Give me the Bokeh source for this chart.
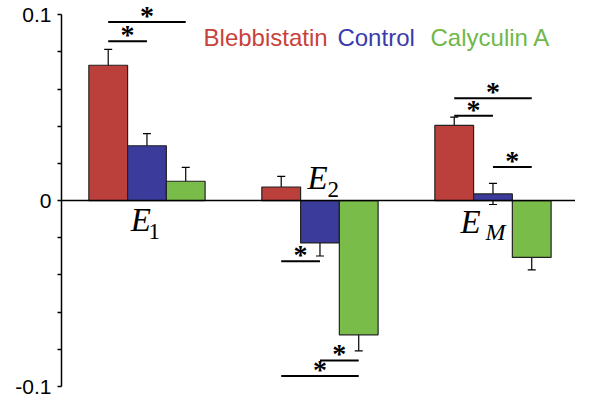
from bokeh.plotting import figure
from bokeh.models import ColumnDataSource, Whisker, TeeHead, Span, FixedTicker, Range1d, LabelSet
from bokeh.core.properties import value
from bokeh.embed import file_html
from bokeh.resources import INLINE

# ---- data ----
groups = ["E1", "E2", "EM"]
conditions = ["Blebbistatin", "Control", "Calyculin A"]
blebbistatin = [0.0728, 0.0073, 0.0404]
control = [0.0295, -0.0228, 0.0036]
calyculin = [0.0104, -0.0722, -0.0306]
err_blebbistatin = [0.0085, 0.0057, 0.0045]
err_control = [0.0065, 0.0070, 0.0057]
err_calyculin = [0.0075, 0.0086, 0.0067]

# significance brackets: group index, from condition, to condition, level
sig_group = [0, 0, 1, 1, 1, 2, 2, 2]
sig_from = [0, 0, 0, 1, 0, 0, 0, 1]
sig_to = [2, 1, 1, 2, 2, 2, 1, 2]
sig_level = [0.096, 0.0857, -0.0326, -0.086, -0.0943, 0.055, 0.0456, 0.0181]

y_major = [-0.1, 0, 0.1]
y_minor = [-0.08, -0.06, -0.04, -0.02, 0.02, 0.04, 0.06, 0.08]

bar_fill = ["#bb403c", "#3b3b9c", "#79bc4a"]
text_col = ["#c8423c", "#3b3bab", "#70b84a"]
BW = 0.224

p = figure(width=575, height=398, output_backend="svg", toolbar_location=None,
           x_range=Range1d(0.506, 3.477), y_range=Range1d(-0.1, 0.106),
           x_axis_type=None, min_border_left=61, min_border_right=0,
           min_border_top=3, min_border_bottom=12)
p.grid.visible = False
p.outline_line_color = None
p.background_fill_color = "white"
p.border_fill_color = "white"

series = [blebbistatin, control, calyculin]
errs = [err_blebbistatin, err_control, err_calyculin]

def xpos(g, c):
    return g + 1 + (c - 1) * BW

p.add_layout(Span(location=0, dimension="width", line_color="black", line_width=1.5))

for c in range(3):
    xs = [xpos(g, c) for g in range(len(groups))]
    src = ColumnDataSource(dict(x=xs, top=series[c],
                                upper=[v + e for v, e in zip(series[c], errs[c])],
                                lower=[v - e for v, e in zip(series[c], errs[c])]))
    p.vbar(x="x", top="top", bottom=0, width=BW, source=src,
           fill_color=bar_fill[c], line_color="#222222", line_width=1.2)
    w = Whisker(source=src, base="x", upper="upper", lower="lower",
                line_color="black", line_width=1.2,
                upper_head=TeeHead(size=8, line_color="black", line_width=1.2),
                lower_head=TeeHead(size=8, line_color="black", line_width=1.2))
    p.add_layout(w)

# significance brackets
sx0 = [xpos(g, a) for g, a in zip(sig_group, sig_from)]
sx1 = [xpos(g, b) for g, b in zip(sig_group, sig_to)]
p.segment(x0=sx0, y0=sig_level, x1=sx1, y1=sig_level, line_color="black", line_width=2)
star_src = ColumnDataSource(dict(x=[(a + b) / 2 for a, b in zip(sx0, sx1)], y=sig_level,
                                 t=["*"] * len(sig_level)))
p.add_layout(LabelSet(x="x", y="y", text="t", source=star_src,
                      text_font="Liberation Sans", text_font_style="bold", text_font_size="28px",
                      text_align="center", text_baseline="alphabetic", y_offset=-3,
                      text_color="black"))

# legend as coloured text
p.text(x=[1.327, 2.101, 2.639], y=[0.0829] * 3, text=conditions, text_color=text_col,
       text_font=value("Liberation Sans"), text_font_size="24px",
       text_align="left", text_baseline="alphabetic", y_offset=-9)

# group labels E_1, E_2, E_M
p.text(x=[0.906, 1.928, 2.812], y=[-0.0171, 0.0059, -0.0182], text=["E", "E", "E"],
       text_font=value("Liberation Serif"), text_font_style="italic", text_font_size="33px",
       text_align="left", text_baseline="alphabetic", text_color="black", y_offset=-12)
p.text(x=[1.009, 2.044], y=[-0.0209, 0.0016], text=["1", "2"],
       text_font=value("Liberation Serif"), text_font_size="23px",
       text_align="left", text_baseline="alphabetic", text_color="black", y_offset=-8)
p.text(x=[2.957], y=[-0.0219], text=["M"],
       text_font=value("Liberation Serif"), text_font_style="italic", text_font_size="24px",
       text_align="left", text_baseline="alphabetic", text_color="black", y_offset=-9)

# y axis
ax = p.yaxis[0]
ax.bounds = (-0.1, 0.1)
ax.ticker = FixedTicker(ticks=y_major, minor_ticks=y_minor)
ax.major_label_overrides = {-0.1: "-0.1", 0: "0", 0.1: "0.1"}
ax.axis_line_width = 1.5
ax.axis_line_color = "black"
ax.major_tick_in = 0
ax.major_tick_out = 4
ax.minor_tick_in = 0
ax.minor_tick_out = 4
ax.major_tick_line_width = 1.5
ax.minor_tick_line_width = 1.5
ax.major_label_text_font = "Liberation Sans"
ax.major_label_text_font_size = "21px"
ax.major_label_text_color = "black"
ax.major_label_standoff = 6

open("out.html", "w").write(file_html(p, INLINE))
